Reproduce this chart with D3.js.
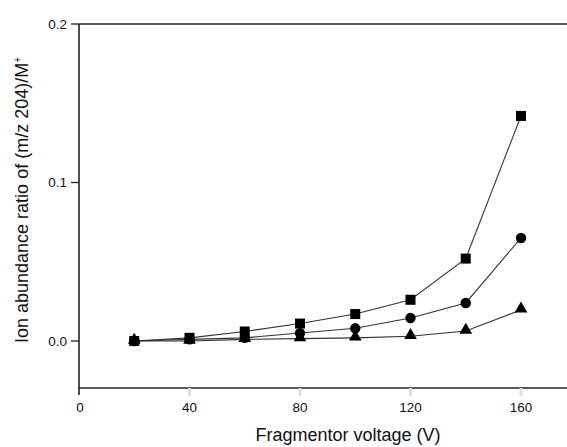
<!DOCTYPE html>
<html>
<head>
<meta charset="utf-8">
<script src="https://cdn.jsdelivr.net/npm/d3@7"></script>
<style>
  body { margin: 0; background: #fff; }
  text { font-family: "Liberation Sans", Arial, sans-serif; fill: #111; }
</style>
</head>
<body>
<div id="chart"></div>
<script>
// data
const voltage = [20, 40, 60, 80, 100, 120, 140, 160];
const squareSeries = [0.000, 0.002, 0.006, 0.011, 0.017, 0.026, 0.052, 0.142];
const circleSeries = [0.000, 0.001, 0.002, 0.005, 0.008, 0.0145, 0.024, 0.065];
const triangleSeries = [0.000, 0.000, 0.001, 0.0015, 0.002, 0.003, 0.0063, 0.0196];
const xTicks = [0, 40, 80, 120, 160];
const yTicks = [0.0, 0.1, 0.2];

const W = 567, H = 447;

const svg = d3.select("#chart").append("svg")
    .attr("width", W).attr("height", H);

const x = d3.scaleLinear().domain([0, 160]).range([79, 521]);
const y = d3.scaleLinear().domain([0, 0.2]).range([341, 24]);
const yBottom = 388;

// frame: left axis, top line, bottom axis
svg.append("line").attr("x1", 79).attr("x2", 79).attr("y1", 24).attr("y2", yBottom)
    .attr("stroke", "#222").attr("stroke-width", 1.6);
svg.append("line").attr("x1", 79).attr("x2", W).attr("y1", 24).attr("y2", 24)
    .attr("stroke", "#222").attr("stroke-width", 1.6);
svg.append("line").attr("x1", 79).attr("x2", W).attr("y1", yBottom).attr("y2", yBottom)
    .attr("stroke", "#222").attr("stroke-width", 1.6);

// y ticks
yTicks.forEach(t => {
  svg.append("line").attr("x1", 71).attr("x2", 79).attr("y1", y(t)).attr("y2", y(t))
      .attr("stroke", "#222").attr("stroke-width", 1.3);
  svg.append("text").attr("x", 67).attr("y", y(t)).attr("dy", "0.35em")
      .attr("text-anchor", "end").attr("font-size", 13.5).text(t.toFixed(1));
});

// x ticks (0 is dark, the rest faint)
xTicks.forEach(t => {
  svg.append("line").attr("x1", x(t)).attr("x2", x(t)).attr("y1", yBottom).attr("y2", t === 0 ? 395 : 396)
      .attr("stroke", t === 0 ? "#222" : "#ddd").attr("stroke-width", t === 0 ? 1.6 : 3);
  svg.append("text").attr("x", x(t) + (t === 0 ? 1 : 0)).attr("y", 412)
      .attr("text-anchor", "middle").attr("font-size", 13.5).text(t);
});

// axis titles
svg.append("text").attr("x", 348).attr("y", 441).attr("text-anchor", "middle")
    .attr("font-size", 18).text("Fragmentor voltage (V)");

const yt = svg.append("text").attr("transform", "translate(28,200) rotate(-90)")
    .attr("text-anchor", "middle").attr("font-size", 18);
yt.append("tspan").text("Ion abundance ratio of (m/z 204)/M");
yt.append("tspan").attr("dy", -7).attr("font-size", 10).text("+");

// series
const line = d3.line().x((d, i) => x(voltage[i])).y(d => y(d));
[squareSeries, circleSeries, triangleSeries].forEach(s => {
  svg.append("path").attr("d", line(s)).attr("fill", "none")
      .attr("stroke", "#333").attr("stroke-width", 1.1);
});

const pts = (s) => s.map((v, i) => [x(voltage[i]), y(v)]);

svg.selectAll(".tri").data(pts(triangleSeries)).enter().append("path")
    .attr("d", d3.symbol().type(d3.symbolTriangle).size(70))
    .attr("transform", d => `translate(${d[0]},${d[1] - 1})`).attr("fill", "#000");
svg.selectAll(".cir").data(pts(circleSeries)).enter().append("circle")
    .attr("cx", d => d[0]).attr("cy", d => d[1]).attr("r", 5.2).attr("fill", "#000");
svg.selectAll(".sq").data(pts(squareSeries)).enter().append("rect")
    .attr("x", d => d[0] - 5).attr("y", d => d[1] - 5)
    .attr("width", 10).attr("height", 10).attr("fill", "#000");
</script>
</body>
</html>
